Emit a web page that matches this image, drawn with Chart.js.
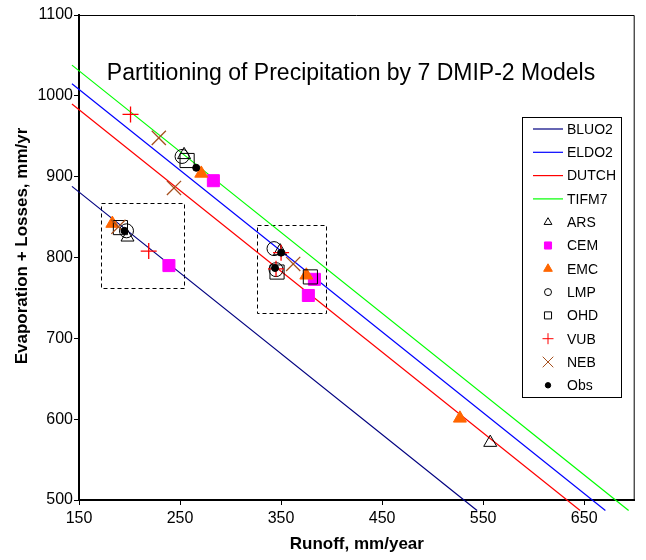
<!DOCTYPE html>
<html>
<head>
<meta charset="utf-8">
<script src="https://cdn.jsdelivr.net/npm/chart.js@4.4.1/dist/chart.umd.min.js"></script>
<style>
  html, body { margin: 0; padding: 0; background: #fff; }
  #wrap { width: 646px; height: 560px; }
</style>
</head>
<body>
<div id="wrap"><canvas id="dmipChart" width="646" height="560"></canvas></div>
<script>
// water balance lines: runoff + evaporation = precipitation for each basin
const basins = ["BLUO2", "ELDO2", "DUTCH", "TIFM7"];
const basinPrecip = [1031, 1158, 1133, 1181];
const lineRunoffStart = 143;
const lineEvapEnd = 487;

// model results, basin order BLUO2, ELDO2, DUTCH, TIFM7
const models = ["ARS", "CEM", "EMC", "LMP", "OHD", "VUB", "NEB", "Obs"];
const arsRunoff = [198, 349, 557, 254];
const arsEvap   = [825, 808, 571, 927];
const cemRunoff = [239, 383, 377, 283];
const cemEvap   = [790, 773, 753, 895];
const emcRunoff = [183, 375, 527, 271];
const emcEvap   = [842, 778, 601, 904];
const lmpRunoff = [197, 343, 345, 252];
const lmpEvap   = [833, 811, 785, 925];
const ohdRunoff = [191, 379, 346, 257];
const ohdEvap   = [837, 776, 782, 920];
const vubRunoff = [219, 350, 345, 201];
const vubEvap   = [808, 806, 786, 977];
const nebRunoff = [189, 362, 244, 229];
const nebEvap   = [838, 792, 886, 948];
const obsRunoff = [195, 350, 344, 266];
const obsEvap   = [833, 806, 787, 911];

const xTicks = [150, 250, 350, 450, 550, 650];
const yTicks = [500, 600, 700, 800, 900, 1000, 1100];

// dashed boxes around the clusters: [runoff min, runoff max, evap min, evap max]
const clusterBoxes = [[172, 254, 762, 868], [326, 394, 731, 840]];

const lineColors = ["#000080", "#0000ff", "#ff0000", "#00ff00"];

const markerStyles = {
  ARS: { pointStyle: "triangle", radius: 7.5, fill: "rgba(0,0,0,0)", stroke: "#000", legendRadius: 4.5 },
  CEM: { pointStyle: "rect", radius: 8.5, fill: "#ff00ff", stroke: "#ff00ff", legendRadius: 5 },
  EMC: { pointStyle: "triangle", radius: 7.5, fill: "#ff6600", stroke: "#ff6600", legendRadius: 5 },
  LMP: { pointStyle: "circle", radius: 7, fill: "rgba(0,0,0,0)", stroke: "#000", legendRadius: 3.5 },
  OHD: { pointStyle: "rect", radius: 10, fill: "rgba(0,0,0,0)", stroke: "#000", legendRadius: 5 },
  VUB: { pointStyle: "cross", radius: 8, fill: "#ff0000", stroke: "#ff0000", legendRadius: 5.5 },
  NEB: { pointStyle: "crossRot", radius: 10, fill: "#a5501e", stroke: "#a5501e", legendRadius: 7.5 },
  Obs: { pointStyle: "circle", radius: 3.5, fill: "#000", stroke: "#000", legendRadius: 2.7 }
};

const modelRunoff = [arsRunoff, cemRunoff, emcRunoff, lmpRunoff, ohdRunoff, vubRunoff, nebRunoff, obsRunoff];
const modelEvap = [arsEvap, cemEvap, emcEvap, lmpEvap, ohdEvap, vubEvap, nebEvap, obsEvap];

const FONT = "'Liberation Sans', Arial, sans-serif";
Chart.defaults.font.family = FONT;
Chart.defaults.color = "#000";

const datasets = [];

basins.forEach((name, i) => {
  const p = basinPrecip[i];
  datasets.push({
    label: name,
    data: [
      { x: lineRunoffStart, y: p - lineRunoffStart },
      { x: p - lineEvapEnd, y: lineEvapEnd }
    ],
    showLine: true,
    borderColor: lineColors[i],
    borderWidth: 1.2,
    pointRadius: 0,
    clip: false,
    order: 20 + i
  });
});

models.forEach((name, m) => {
  const st = markerStyles[name];
  datasets.push({
    label: name,
    data: modelRunoff[m].map((r, k) => ({ x: r, y: modelEvap[m][k] })),
    showLine: false,
    pointStyle: st.pointStyle,
    pointRadius: st.radius,
    pointBackgroundColor: st.fill,
    pointBorderColor: st.stroke,
    pointBorderWidth: name === "VUB" || name === "NEB" ? 1.3 : 1,
    clip: false,
    order: models.length - m
  });
});

// frame, titles, dashed boxes and the boxed legend
const decorations = {
  id: "decorations",
  beforeDatasetsDraw(chart) {
    const { ctx, chartArea: a, scales: { x, y } } = chart;
    ctx.save();
    ctx.strokeStyle = "#000";
    ctx.lineWidth = 1;
    ctx.beginPath();
    ctx.moveTo(a.left, a.top + 0.5);
    ctx.lineTo(a.right - 0.5, a.top + 0.5);
    ctx.lineTo(a.right - 0.5, a.bottom);
    ctx.stroke();

    ctx.setLineDash([4, 3]);
    clusterBoxes.forEach(([x0, x1, y0, y1]) => {
      const l = Math.round(x.getPixelForValue(x0)) + 0.5;
      const r = Math.round(x.getPixelForValue(x1)) + 0.5;
      const t = Math.round(y.getPixelForValue(y1)) + 0.5;
      const b = Math.round(y.getPixelForValue(y0)) + 0.5;
      ctx.strokeRect(l, t, r - l, b - t);
    });
    ctx.restore();

    // y axis title, a little above the middle of the axis
    ctx.save();
    ctx.translate(22, 246);
    ctx.rotate(-Math.PI / 2);
    ctx.fillStyle = "#000";
    ctx.font = "bold 17px " + FONT;
    ctx.textAlign = "center";
    ctx.textBaseline = "middle";
    ctx.fillText("Evaporation + Losses, mm/yr", 0, 0);
    ctx.restore();
  },
  afterDatasetsDraw(chart) {
    const { ctx } = chart;
    ctx.save();
    ctx.fillStyle = "#000";
    ctx.font = "23px " + FONT;
    ctx.textAlign = "center";
    ctx.textBaseline = "middle";
    ctx.fillText("Partitioning of Precipitation by 7 DMIP-2 Models", 351, 74);

    const bx = 522, by = 117, bw = 99, bh = 280, step = 23.3;
    ctx.fillStyle = "#fff";
    ctx.fillRect(bx, by, bw, bh);
    ctx.strokeStyle = "#000";
    ctx.lineWidth = 1;
    ctx.strokeRect(bx + 0.5, by + 0.5, bw, bh);

    ctx.font = "14px " + FONT;
    ctx.textAlign = "left";
    chart.data.datasets.forEach((ds, i) => {
      const yy = by + 12 + i * step;
      if (ds.showLine) {
        ctx.strokeStyle = ds.borderColor;
        ctx.lineWidth = 1.2;
        ctx.beginPath();
        ctx.moveTo(533, yy);
        ctx.lineTo(563, yy);
        ctx.stroke();
      } else {
        const st = markerStyles[ds.label];
        ctx.fillStyle = st.fill;
        ctx.strokeStyle = st.stroke;
        ctx.lineWidth = 1;
        Chart.helpers.drawPoint(ctx, {
          pointStyle: st.pointStyle,
          radius: st.legendRadius,
          rotation: 0,
          borderWidth: 1
        }, 548, yy);
      }
      ctx.fillStyle = "#000";
      ctx.fillText(ds.label, 567, yy + 1);
    });
    ctx.restore();
  }
};

new Chart(document.getElementById("dmipChart"), {
  type: "scatter",
  data: { datasets },
  options: {
    responsive: false,
    animation: false,
    events: [],
    layout: { padding: { top: 15, right: 7, left: 0, bottom: 0 } },
    plugins: {
      legend: { display: false },
      tooltip: { enabled: false }
    },
    scales: {
      x: {
        type: "linear",
        min: 150,
        max: 700,
        afterBuildTicks: (s) => { s.ticks = xTicks.map(v => ({ value: v })); },
        afterFit: (s) => { s.height = 60; },
        grid: { display: true, drawOnChartArea: false, drawTicks: true, tickLength: 5, color: "#000", lineWidth: 1 },
        border: { display: true, color: "#000", width: 2 },
        ticks: { font: { size: 16 }, color: "#000", padding: 4, maxRotation: 0, callback: (v) => String(v) },
        title: {
          display: true,
          text: "Runoff, mm/year",
          font: { size: 17, weight: "bold" },
          color: "#000",
          padding: { top: 5, bottom: 5 }
        }
      },
      y: {
        type: "linear",
        min: 500,
        max: 1100,
        afterBuildTicks: (s) => { s.ticks = yTicks.map(v => ({ value: v })); },
        afterFit: (s) => { s.width = 79; },
        grid: { display: true, drawOnChartArea: false, drawTicks: true, tickLength: 5, color: "#000", lineWidth: 1 },
        border: { display: true, color: "#000", width: 2 },
        ticks: { font: { size: 16 }, color: "#000", padding: 1, callback: (v) => String(v) },
        title: { display: false }
      }
    }
  },
  plugins: [decorations]
});
</script>
</body>
</html>
